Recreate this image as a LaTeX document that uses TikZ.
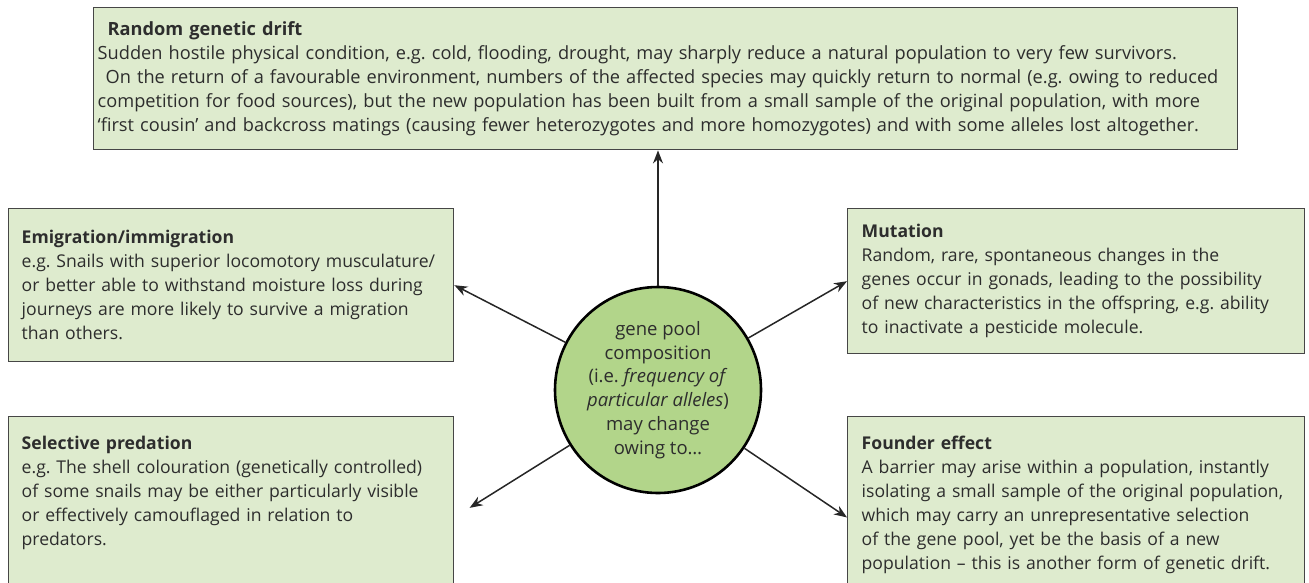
\documentclass[tikz,border=0pt]{standalone}
\usepackage{fontspec}
\setmainfont{Open Sans}
\frenchspacing
\usetikzlibrary{arrows.meta, positioning}
\definecolor{boxfill}{RGB}{222,235,206}
\definecolor{boxline}{RGB}{70,70,70}
\definecolor{poolfill}{RGB}{178,213,138}
\definecolor{inktext}{RGB}{45,45,45}

\begin{document}
\begin{tikzpicture}[
    x=1pt, y=1pt, >={Stealth[length=13pt, width=10pt]},
    factor/.style={draw=boxline, fill=boxfill, line width=1.4pt,
                   anchor=north west, align=left, inner xsep=14pt,
                   text=inktext, font=\fontsize{17.6}{24}\selectfont},
    flow/.style={->, line width=1.5pt, draw=black!85}
  ]
  \useasboundingbox (0,0) rectangle (1309,-582);

  % gene pool in the middle
  \node[circle, draw=black, line width=2.6pt, fill=poolfill,
        minimum size=206pt, inner sep=0pt, align=center, text=inktext,
        font=\fontsize{18.5}{23.7}\selectfont] (pool) at (658,-390)
    {gene pool\\composition\\(i.e. \textit{frequency of}\\
     \textit{particular alleles})\\may change\\owing to\ldots};

  % the five factors
  \node[factor, inner xsep=4pt, text width=1136pt, minimum height=142pt,
        font=\fontsize{18.2}{24}\selectfont]
    (drift) at (93,-7)
    {\hspace{10pt}\textbf{Random genetic drift}\\
     Sudden hostile physical condition, e.g. cold, flooding, drought, may sharply reduce a natural population to very few survivors.\\
     \hspace{8pt}On the return of a favourable environment, numbers of the affected species may quickly return to normal (e.g. owing to reduced\\
     competition for food sources), but the new population has been built from a small sample of the original population, with more\\
     ‘first cousin’ and backcross matings (causing fewer heterozygotes and more homozygotes) and with some alleles lost altogether.};
  \node[factor, inner xsep=13pt, text width=419pt, minimum height=153pt]
    (emig) at (8,-208)
    {\textbf{Emigration/immigration}\\
     e.g. Snails with superior locomotory musculature/\\
     or better able to withstand moisture loss during\\
     journeys are more likely to survive a migration\\
     than others.};
  \node[factor, text width=429pt, minimum height=145pt]
    (mut) at (847,-208)
    {\textbf{Mutation}\\
     Random, rare, spontaneous changes in the\\
     genes occur in gonads, leading to the possibility\\
     of new characteristics in the offspring, e.g. ability\\
     to inactivate a pesticide molecule.};
  \node[factor, inner xsep=13pt, text width=419pt, inner ysep=19pt,
        text depth=150pt]
    (pred) at (8,-416)
    {\textbf{Selective predation}\\
     e.g. The shell colouration (genetically controlled)\\
     of some snails may be either particularly visible\\
     or effectively camouflaged in relation to\\
     predators.};
  \node[factor, text width=429pt, inner ysep=19pt, text depth=150pt]
    (found) at (847,-416)
    {\textbf{Founder effect}\\
     A barrier may arise within a population, instantly\\
     isolating a small sample of the original population,\\
     which may carry an unrepresentative selection\\
     of the gene pool, yet be the basis of a new\\
     population – this is another form of genetic drift.};

  \draw[flow] (pool.north) -- (pool.north |- drift.south);
  \draw[flow] (pool) -- (emig.east);
  \draw[flow] (pool) -- (mut.west);
  \draw[flow, shorten >=18pt] (pool) -- (pred.east);
  \draw[flow] (pool) -- (found.west);
\end{tikzpicture}
\end{document}
